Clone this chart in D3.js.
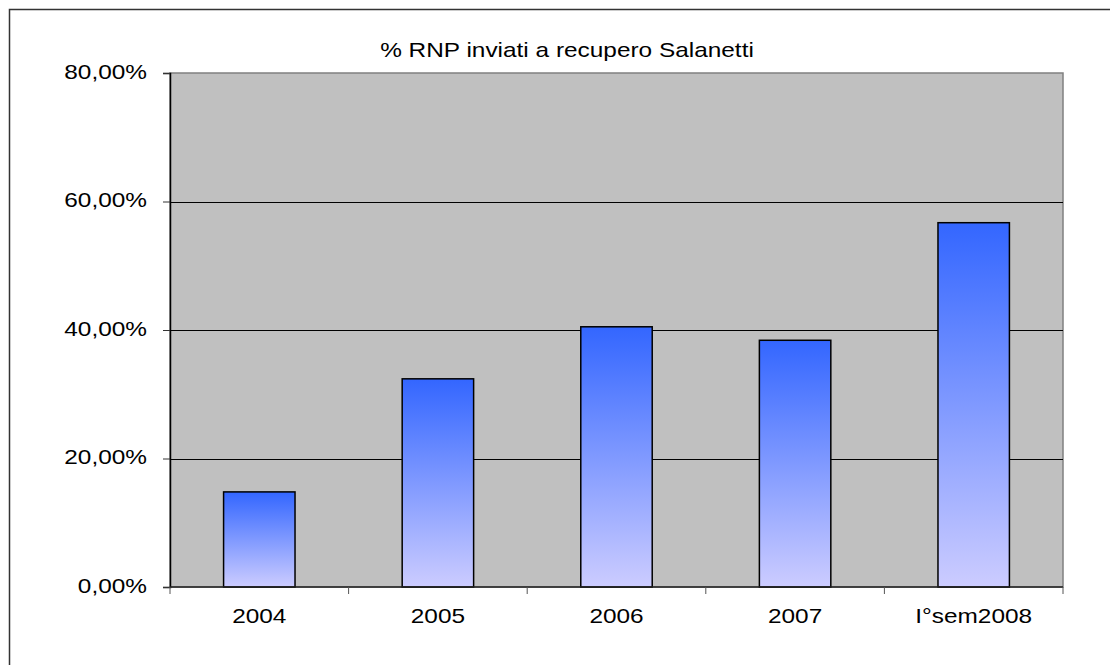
<!DOCTYPE html>
<html>
<head>
<meta charset="utf-8">
<script src="https://cdn.jsdelivr.net/npm/d3@7"></script>
<style>
  html, body { margin: 0; padding: 0; background: #fff; }
  svg { display: block; }
  text { font-family: "Liberation Sans", Arial, sans-serif; fill: #000; }
</style>
</head>
<body>
<svg id="chart" width="1110" height="665"></svg>
<script>
const title = "% RNP inviati a recupero Salanetti";
const categories = ["2004", "2005", "2006", "2007", "I°sem2008"];
const values = [0.148, 0.324, 0.405, 0.384, 0.567];
const yTicks = [0, 0.2, 0.4, 0.6, 0.8];

const svg = d3.select("#chart");
const W = 1110, H = 665;
const plot = { left: 170, top: 73, right: 1063, bottom: 587 };
const sx = 1.22, fs = 20;

// outer frame
svg.append("rect").attr("x", 9.5).attr("y", 9.5).attr("width", W + 20).attr("height", H + 20)
  .attr("fill", "#fff").attr("stroke", "#333").attr("stroke-width", 1.5);

const defs = svg.append("defs");
const grad = defs.append("linearGradient").attr("id", "barGrad")
  .attr("x1", 0).attr("y1", 0).attr("x2", 0).attr("y2", 1);
grad.append("stop").attr("offset", "0%").attr("stop-color", "#3366FF");
grad.append("stop").attr("offset", "100%").attr("stop-color", "#CCCCFF");

const x = d3.scaleBand().domain(categories).range([plot.left, plot.right]).paddingInner(0.6).paddingOuter(0.3);
const y = d3.scaleLinear().domain([0, 0.8]).range([plot.bottom, plot.top]);

// plot background
svg.append("rect").attr("x", plot.left).attr("y", plot.top)
  .attr("width", plot.right - plot.left).attr("height", plot.bottom - plot.top)
  .attr("fill", "#C0C0C0").attr("stroke", "#808080").attr("stroke-width", 1.5);

// gridlines
svg.append("g").selectAll("line").data(yTicks.filter(d => d > 0 && d < 0.8)).join("line")
  .attr("x1", plot.left).attr("x2", plot.right)
  .attr("y1", d => Math.round(y(d)) + 0.5).attr("y2", d => Math.round(y(d)) + 0.5)
  .attr("stroke", "#000").attr("stroke-width", 1);

// bars
svg.append("g").selectAll("rect").data(values).join("rect")
  .attr("x", (d, i) => x(categories[i]))
  .attr("y", d => y(d))
  .attr("width", x.bandwidth())
  .attr("height", d => y(0) - y(d))
  .attr("fill", "url(#barGrad)")
  .attr("stroke", "#000").attr("stroke-width", 1.5);

// y axis
const fmt = d => d3.format(".2f")(d * 100).replace(".", ",") + "%";
const yAxis = d3.axisLeft(y).tickValues(yTicks).tickSize(7).tickFormat(fmt);
const gy = svg.append("g").attr("transform", `translate(${plot.left},0)`).call(yAxis);
gy.select(".domain").attr("stroke", "#000").attr("stroke-width", 1.5);
gy.selectAll(".tick line").attr("stroke", "#333");
gy.selectAll(".tick text").attr("font-size", fs).attr("x", 0).attr("dy", null)
  .attr("dominant-baseline", "middle").attr("text-anchor", "end")
  .attr("transform", `translate(-23,0) scale(${sx},1)`);

// x axis
const xBound = d3.scaleLinear().domain([0, categories.length]).range([plot.left, plot.right]);
const gx = svg.append("g").attr("transform", `translate(0,${plot.bottom})`);
gx.append("line").attr("x1", plot.left).attr("x2", plot.right).attr("y1", 0).attr("y2", 0)
  .attr("stroke", "#222").attr("stroke-width", 1.5);
gx.selectAll("line.tk").data(d3.range(categories.length + 1)).join("line").attr("class", "tk")
  .attr("x1", d => xBound(d)).attr("x2", d => xBound(d)).attr("y1", 0).attr("y2", 7)
  .attr("stroke", "#555").attr("stroke-width", 1);
gx.selectAll("text").data(categories).join("text")
  .attr("text-anchor", "middle").attr("font-size", fs)
  .attr("transform", d => `translate(${x(d) + x.bandwidth() / 2},36) scale(${sx},1)`)
  .text(d => d);

// title
svg.append("text").attr("text-anchor", "middle").attr("font-size", fs)
  .attr("transform", `translate(567,57) scale(${sx},1)`).text(title);
</script>
</body>
</html>
